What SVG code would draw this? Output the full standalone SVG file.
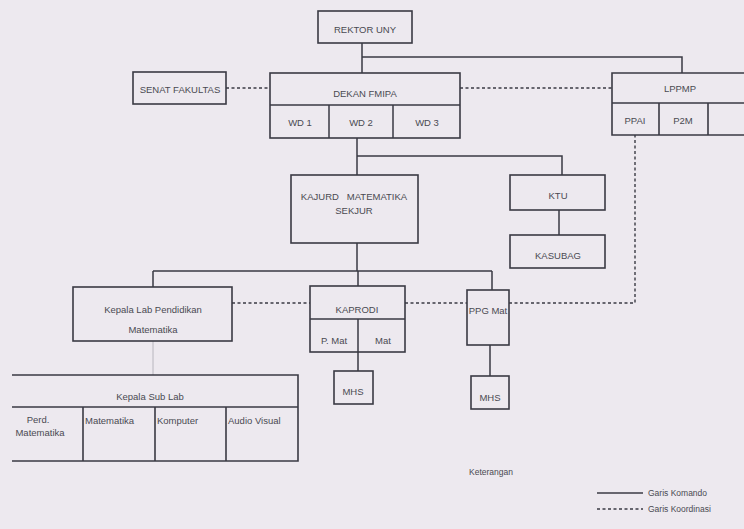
<svg xmlns="http://www.w3.org/2000/svg" width="744" height="529" viewBox="0 0 744 529">
<style>
.bx{fill:none;stroke:#3a3a44;stroke-width:1.6}
.ln{fill:none;stroke:#3a3a44;stroke-width:1.5}
.ds{fill:none;stroke:#3a3a44;stroke-width:1.4;stroke-dasharray:3,2.5}
.fn{fill:none;stroke:#b8b6be;stroke-width:1}
text{font-family:"Liberation Sans",Arial,sans-serif;font-size:9.5px;fill:#4a4a52;text-anchor:middle}
.l{text-anchor:start}
</style>
<rect width="744" height="529" fill="#ede9ef"/>
<g id="connectors">
<path class="ln" d="M362 43V73M362 57H682V73"/>
<path class="ds" d="M226 88H270M460 88H612"/>
<path class="ln" d="M357 138V175M357 156H562V175"/>
<path class="ln" d="M559 210V235"/>
<path class="ln" d="M357 243V271M153 271H492M153 271V287M358 271V286M492 271V290"/>
<path class="fn" d="M153 341V375"/>
<path class="ds" d="M232 303H310M405 303H467M509 303H635V135"/>
<path class="ln" d="M358 352V371M490 345V376"/>
</g>
<g id="rektor"><rect class="bx" x="318" y="11" width="94" height="32"/><text x="365" y="33">REKTOR UNY</text></g>
<g id="senat"><rect class="bx" x="133" y="72" width="93" height="32"/><text x="180" y="93">SENAT FAKULTAS</text></g>
<g id="dekan"><rect class="bx" x="270" y="73" width="190" height="65"/><path class="ln" d="M270 105H460M329 105V138M393 105V138"/><text x="365" y="97">DEKAN FMIPA</text><text x="300" y="126">WD 1</text><text x="361" y="126">WD 2</text><text x="427" y="126">WD 3</text></g>
<g id="lppmp"><path class="bx" d="M746 73H612V135H746M612 103H746M659 103V135M708 103V135"/><text x="680" y="92">LPPMP</text><text x="635" y="124">PPAI</text><text x="683" y="124">P2M</text></g>
<g id="kajurd"><rect class="bx" x="291" y="175" width="127" height="68"/><text x="354" y="200" style="white-space:pre">KAJURD   MATEMATIKA</text><text x="354" y="214">SEKJUR</text></g>
<g id="ktu"><rect class="bx" x="510" y="175" width="95" height="35"/><text x="558" y="199">KTU</text></g>
<g id="kasubag"><rect class="bx" x="510" y="235" width="95" height="33"/><text x="558" y="259">KASUBAG</text></g>
<g id="kepala-lab"><rect class="bx" x="73" y="287" width="159" height="54"/><text x="153" y="313">Kepala Lab Pendidikan</text><text x="153" y="333">Matematika</text></g>
<g id="kaprodi"><rect class="bx" x="310" y="286" width="95" height="66"/><path class="ln" d="M310 319H405M358 319V352"/><text x="357" y="313">KAPRODI</text><text x="334" y="344">P. Mat</text><text x="383" y="344">Mat</text></g>
<g id="ppg"><rect class="bx" x="467" y="290" width="42" height="55"/><text x="488" y="314">PPG Mat</text></g>
<g id="mhs1"><rect class="bx" x="334" y="371" width="39" height="33"/><text x="353" y="395">MHS</text></g>
<g id="mhs2"><rect class="bx" x="471" y="376" width="38" height="33"/><text x="490" y="401">MHS</text></g>
<g id="sublab"><path class="bx" d="M12 375H298V461H12M12 407H298M83 407V461M155 407V461M226 407V461"/><text x="150" y="400">Kepala Sub Lab</text><text x="38" y="423">Perd.</text><text x="40" y="436">Matematika</text><text class="l" x="85" y="424">Matematika</text><text class="l" x="157" y="424">Komputer</text><text class="l" x="228" y="424">Audio Visual</text></g>
<g id="legend"><text class="l" x="469" y="475" style="font-size:8.5px">Keterangan</text><path class="ln" d="M597 493H643"/><path class="ds" d="M597 509H643"/><text class="l" x="648" y="496" style="font-size:8.5px">Garis Komando</text><text class="l" x="648" y="512" style="font-size:8.5px">Garis Koordinasi</text></g>
</svg>
